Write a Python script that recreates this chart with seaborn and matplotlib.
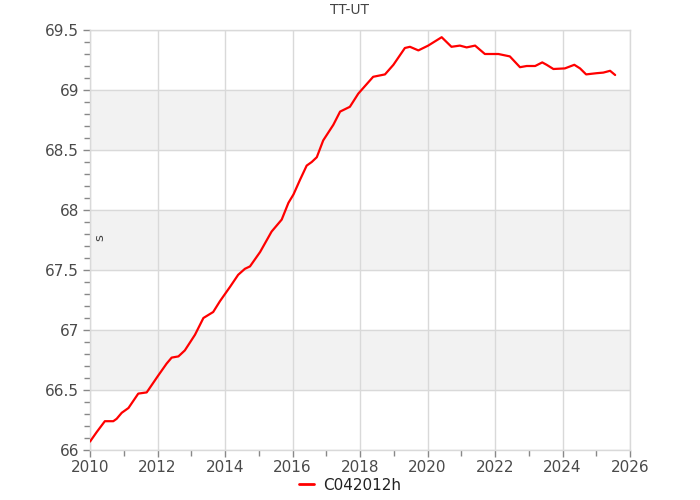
import matplotlib
matplotlib.use("Agg")
import matplotlib.pyplot as plt
from matplotlib.ticker import MultipleLocator
import pandas as pd
import seaborn as sns

# TT-UT readings (decimal year, seconds)
years = [
    2010.00, 2010.20, 2010.44, 2010.69, 2010.79, 2010.94, 2011.14, 2011.43,
    2011.68, 2012.02, 2012.27, 2012.42, 2012.62, 2012.81, 2013.11, 2013.36,
    2013.65, 2013.85, 2014.15, 2014.39, 2014.59, 2014.74, 2015.04, 2015.38,
    2015.53, 2015.68, 2015.88, 2016.03, 2016.22, 2016.42, 2016.57, 2016.72,
    2016.91, 2017.21, 2017.41, 2017.70, 2017.95, 2018.39, 2018.74, 2018.99,
    2019.33, 2019.48, 2019.73, 2020.02, 2020.42, 2020.71, 2020.96, 2021.16,
    2021.41, 2021.70, 2022.10, 2022.44, 2022.74, 2022.94, 2023.19, 2023.40,
    2023.53, 2023.73, 2024.07, 2024.35, 2024.52, 2024.70, 2025.01, 2025.21,
    2025.41, 2025.56,
]
tt_ut = [
    66.07, 66.15, 66.24, 66.24, 66.26, 66.31, 66.35, 66.47,
    66.48, 66.62, 66.72, 66.77, 66.78, 66.83, 66.96, 67.10,
    67.15, 67.24, 67.36, 67.46, 67.51, 67.53, 67.65, 67.82,
    67.87, 67.92, 68.06, 68.13, 68.25, 68.37, 68.40, 68.44,
    68.58, 68.71, 68.82, 68.86, 68.97, 69.11, 69.13, 69.21,
    69.35, 69.36, 69.33, 69.37, 69.44, 69.36, 69.37, 69.355,
    69.37, 69.30, 69.30, 69.28, 69.19, 69.20, 69.20, 69.23,
    69.21, 69.175, 69.18, 69.21, 69.18, 69.13, 69.14, 69.145,
    69.16, 69.125,
]
series_name = "C042012h"
title = "TT-UT"
unit = "s"

df = pd.DataFrame({"year": years, "value": tt_ut, "series": series_name})

sns.set_style("white")
plt.rcParams["font.family"] = ["DejaVu Sans"]

fig = plt.figure(figsize=(7, 5), dpi=100)
ax = fig.add_axes([90 / 700, 0.1, 540 / 700, 0.84])

# alternating bands
for lo in [66.5, 67.5, 68.5]:
    ax.axhspan(lo, lo + 0.5, color="#f2f2f2", zorder=0)

sns.lineplot(data=df, x="year", y="value", hue="series", palette=["#ff0000"],
             lw=1.6, ax=ax, legend=False, estimator=None, sort=False, zorder=3)

ax.set_xlim(2010, 2026)
ax.set_ylim(66, 69.5)
ax.xaxis.set_major_locator(MultipleLocator(2))
ax.xaxis.set_minor_locator(MultipleLocator(1))
ax.yaxis.set_major_locator(MultipleLocator(0.5))
ax.yaxis.set_minor_locator(MultipleLocator(0.1))
ax.yaxis.set_major_formatter(plt.FuncFormatter(lambda v, p: f"{v:g}"))

ax.grid(True, which="major", axis="both", color="#d9d9d9", lw=1, zorder=1)
ax.set_axisbelow(True)
for s in ax.spines.values():
    s.set_color("#d9d9d9")
    s.set_linewidth(1)

ax.tick_params(which="both", direction="out", color="#888888", width=1,
               labelcolor="#4a4a4a", labelsize=11)
ax.tick_params(which="major", length=5)
ax.tick_params(which="minor", length=4)
ax.tick_params(axis="x", pad=2)
ax.tick_params(axis="y", pad=3)
ax.tick_params(left=True, bottom=True, which="both")

ax.set_xlabel("")
ax.set_ylabel("")
ax.text(10 / 540, 0.505, unit, transform=ax.transAxes, rotation=90,
        ha="center", va="center", fontsize=9.5, color="#444444")
fig.text(0.5, 0.98, title, ha="center", va="center", fontsize=10, color="#444444")

handle = plt.Line2D([], [], color="#ff0000", lw=2)
fig.legend([handle], [series_name], loc="center", bbox_to_anchor=(0.5, 0.03),
           frameon=False, fontsize=11, handlelength=1, handletextpad=0.6,
           labelcolor="#222222")

fig.savefig("out.png", dpi=100)
